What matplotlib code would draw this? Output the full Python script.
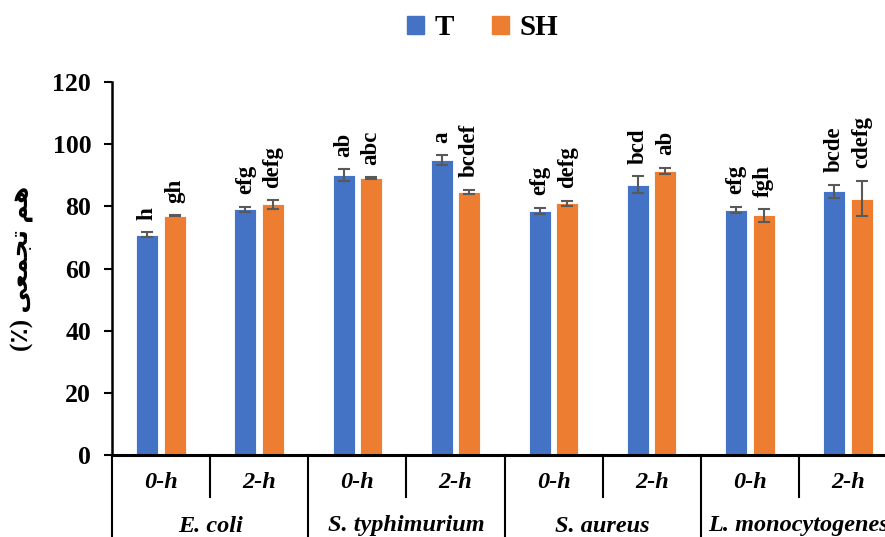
import numpy as np
import matplotlib
matplotlib.use('Agg')
import matplotlib.pyplot as plt
import matplotlib.transforms as mtransforms
from matplotlib.patches import Patch

# data
species = ['E. coli', 'S. typhimurium', 'S. aureus', 'L. monocytogenes']
times = ['0-h', '2-h']
t_vals = [70.8, 79.0, 90.1, 94.8, 78.5, 86.9, 78.8, 84.8]
t_err = [0.8, 0.9, 1.9, 1.6, 1.1, 2.7, 1.0, 2.1]
sh_vals = [77.0, 80.6, 89.0, 84.7, 81.0, 91.4, 77.1, 82.5]
sh_err = [0.2, 1.4, 0.3, 0.6, 0.75, 1.0, 2.0, 5.7]
t_letters = ['h', 'efg', 'ab', 'a', 'efg', 'bcd', 'efg', 'bcde']
sh_letters = ['gh', 'defg', 'abc', 'bcdef', 'defg', 'ab', 'fgh', 'cdefg']

blue = '#4472C4'
orange = '#ED7D31'
serif = 'Liberation Serif'

fig = plt.figure(figsize=(8.85, 5.37), dpi=100)
ax = fig.add_axes([112 / 885, 1 - 455 / 537, (897 - 112) / 885, (455 - 82) / 537])

x = np.arange(len(t_vals))
w = 0.225
off = 0.14
ekw = dict(ecolor='#595959', elinewidth=1.5, capthick=1.5)
ax.bar(x - off, t_vals, w, yerr=t_err, capsize=4.5, color=blue, edgecolor='white',
       linewidth=0.6, error_kw=ekw, zorder=2)
ax.bar(x + off, sh_vals, w, yerr=sh_err, capsize=4.5, color=orange, edgecolor='white',
       linewidth=0.6, error_kw=ekw, zorder=2)

# significance letters above the error bars
for i in range(len(x)):
    ax.annotate(t_letters[i], (x[i] - off, t_vals[i] + t_err[i]), xytext=(0, 9),
                textcoords='offset points', rotation=90, ha='center', va='bottom',
                fontsize=16.5, fontweight='bold', family=serif)
    ax.annotate(sh_letters[i], (x[i] + off, sh_vals[i] + sh_err[i]), xytext=(0, 9),
                textcoords='offset points', rotation=90, ha='center', va='bottom',
                fontsize=16.5, fontweight='bold', family=serif)

ax.set_xlim(-0.5, len(x) - 0.5)
ax.set_ylim(0, 120)
ax.set_yticks(range(0, 121, 20))
ax.tick_params(axis='y', direction='out', length=6, width=1.5, labelsize=18.5, pad=9)
for lab in ax.get_yticklabels():
    lab.set_fontweight('bold')
    lab.set_family(serif)
ax.set_xticks([])
for s in ['top', 'right']:
    ax.spines[s].set_visible(False)
ax.spines['left'].set_linewidth(1.8)
ax.spines['bottom'].set_linewidth(2.2)

# two-level category axis
tr = mtransforms.blended_transform_factory(ax.transData, ax.transAxes)
ax_h = (455 - 82)
for i in range(len(x)):
    ax.text(x[i], -(483 - 455) / ax_h, times[i % 2], transform=tr, ha='center', va='center',
            fontsize=17.5, fontweight='bold', style='italic', family=serif)
for j, sp in enumerate(species):
    ax.text(2 * j + 0.5, -(526 - 455) / ax_h, sp, transform=tr, ha='center', va='center',
            fontsize=17.5, fontweight='bold', style='italic', family=serif)
for i in range(len(x) + 1):
    xb = i - 0.5
    y_end = -(497 - 455) / ax_h if i % 2 == 1 else -0.3
    ax.plot([xb, xb], [0, y_end], transform=tr, color='black', lw=1.5, clip_on=False)

# y label: "هم‌تجمعی (٪)" written with presentation forms in visual order
ylab = '(\u066A) \uFEF0\uFECC\uFEE4\uFEA0\uFE97 \uFEE2\uFEEB'
fig.text(22 / 885, 1 - 268 / 537, ylab, rotation=90, ha='center', va='center',
         fontsize=18, fontweight='bold', family=[serif, 'DejaVu Sans'])

handles = [Patch(color=blue, label='T'), Patch(color=orange, label='SH')]
fig.legend(handles=handles, loc='center', bbox_to_anchor=(0.545, 0.948), ncol=2,
           frameon=False, handlelength=0.6, handleheight=0.6, handletextpad=0.35,
           columnspacing=1.3, prop={'family': serif, 'weight': 'bold', 'size': 21})

fig.savefig('out.png', dpi=100)
